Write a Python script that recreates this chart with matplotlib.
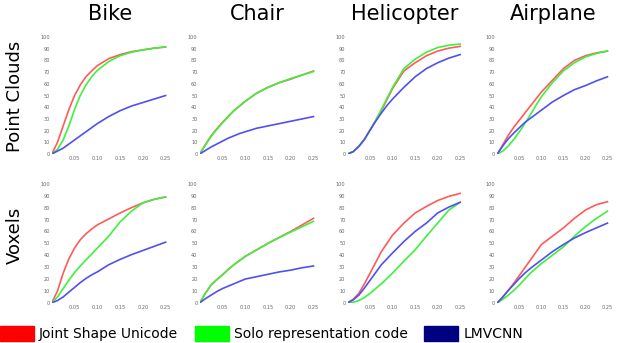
import matplotlib
matplotlib.use("Agg")
import matplotlib.pyplot as plt
import matplotlib.patches as mpatches

# sample positions on the distance axis (denser near the start)
x = [0, 0.0125, 0.025, 0.0375, 0.05, 0.0625, 0.075, 0.0875, 0.1,
     0.125, 0.15, 0.175, 0.2, 0.225, 0.25]

categories = ["Bike", "Chair", "Helicopter", "Airplane"]
rows = ["Point Clouds", "Voxels"]
methods = ["Joint Shape Unicode", "Solo representation code", "LMVCNN"]

# point clouds row
pc_bike_joint = [0, 10, 24, 38, 50, 59, 66, 71, 75.5, 81.5, 85, 87.5, 89, 90.5, 91.5]
pc_bike_solo = [0, 4, 12, 24, 38, 50, 59, 66, 71.5, 79, 84, 87, 89, 90.5, 91.5]
pc_bike_lmvcnn = [0, 2.5, 5, 8.5, 12, 15.5, 19, 22.5, 26, 32, 37, 41, 44, 47, 50]

pc_chair_joint = [0, 8, 15.5, 21.5, 27, 32, 37, 41, 45, 52, 57, 61, 64, 67.5, 71]
pc_chair_solo = [0, 7.5, 15, 21, 26.5, 32, 37, 41, 45, 52, 57, 61, 64.5, 67.5, 70.5]
pc_chair_lmvcnn = [0, 3, 6, 8.5, 11, 13.5, 15.5, 17.5, 19, 22, 24, 26, 28, 30, 32]

pc_heli_joint = [0, 2, 6.5, 12.5, 20.5, 28.5, 37, 46.5, 56, 71, 78, 84, 88, 90.5, 92]
pc_heli_solo = [0, 2, 6.5, 12.5, 20.5, 29, 38, 47.5, 57, 73, 81, 87, 91, 93, 94]
pc_heli_lmvcnn = [0, 2, 6.5, 12.5, 20.5, 28, 35, 41.5, 47, 57, 66, 73, 78, 82, 85]

pc_plane_joint = [0, 8, 16, 23, 29, 35, 41, 47, 53, 63, 73, 80, 84, 86.5, 88]
pc_plane_solo = [0, 2.5, 7, 12.5, 19, 26, 33.5, 41.5, 49, 61, 71, 78, 83, 86, 88]
pc_plane_lmvcnn = [0, 7, 13, 18, 22.5, 27, 30.5, 34, 37.5, 44.5, 50, 55, 58.5, 62.5, 66]

# voxels row
vx_bike_joint = [0, 10, 25, 37, 46, 53, 58, 62, 65.5, 70.5, 75.5, 80, 84, 87, 89]
vx_bike_solo = [0, 5, 12, 19, 25.5, 31, 36, 41, 46, 56, 68, 77, 84, 87, 89]
vx_bike_lmvcnn = [0, 2, 5, 9, 13, 17, 20.5, 23.5, 26, 32, 36.5, 40.5, 44, 47.5, 51]

vx_chair_joint = [0, 8, 15, 19.5, 23.5, 28, 32, 35.5, 39, 44.5, 50, 55, 60, 65.5, 71]
vx_chair_solo = [0, 8, 15, 19.5, 23.5, 28, 32, 35.5, 39, 44.5, 50, 55, 59.5, 64, 68.5]
vx_chair_lmvcnn = [0, 3.5, 6.5, 9.5, 12, 14, 16, 18, 20, 22, 24, 26, 27.5, 29.5, 31]

vx_heli_joint = [0, 3, 8, 16, 25, 34, 43, 50, 57, 67, 75.5, 81, 86, 89.5, 92]
vx_heli_solo = [0, 0.5, 2, 4.5, 8, 12, 16, 20.5, 25, 35, 44.5, 56, 67, 78, 84.5]
vx_heli_lmvcnn = [0, 2.5, 6.5, 12.5, 19, 25.5, 32, 37, 42, 51.5, 60, 67, 75.5, 80.5, 84.5]

vx_plane_joint = [0, 5, 10.5, 16.5, 23, 29.5, 36, 42.5, 49, 56, 63, 71, 78, 82.5, 85]
vx_plane_solo = [0, 3, 6.5, 10.5, 15, 20, 25, 29, 33, 40, 47, 56, 64, 71, 77]
vx_plane_lmvcnn = [0, 5, 10.5, 15.5, 20.5, 25, 29, 32.5, 36, 43, 49, 54.5, 59, 63, 67]

panels = [
    [(pc_bike_joint, pc_bike_solo, pc_bike_lmvcnn),
     (pc_chair_joint, pc_chair_solo, pc_chair_lmvcnn),
     (pc_heli_joint, pc_heli_solo, pc_heli_lmvcnn),
     (pc_plane_joint, pc_plane_solo, pc_plane_lmvcnn)],
    [(vx_bike_joint, vx_bike_solo, vx_bike_lmvcnn),
     (vx_chair_joint, vx_chair_solo, vx_chair_lmvcnn),
     (vx_heli_joint, vx_heli_solo, vx_heli_lmvcnn),
     (vx_plane_joint, vx_plane_solo, vx_plane_lmvcnn)],
]

line_colors = ["#ff5a5a", "#3ff03f", "#5050f0"]
patch_colors = ["#ff0000", "#00ff00", "#000080"]

fig = plt.figure(figsize=(6.24, 3.43), dpi=100)

lefts = [0.083, 0.320, 0.557, 0.797]
widths = [0.186, 0.186, 0.184, 0.180]
bottoms = [0.551, 0.117]
heights = [0.341, 0.347]

for r in range(2):
    for c in range(4):
        ax = fig.add_axes([lefts[c], bottoms[r], widths[c], heights[r]])
        for k in range(3):
            ax.plot(x, panels[r][c][k], color=line_colors[k], lw=1.2)
        ax.set_xlim(0, 0.255)
        ax.set_ylim(0, 100)
        ax.set_xticks([0.05, 0.10, 0.15, 0.20, 0.25])
        ax.set_xticklabels(["0.05", "0.10", "0.15", "0.20", "0.25"])
        ax.set_yticks(range(0, 101, 10))
        ax.tick_params(length=0, labelsize=3.6, labelcolor="#666666", pad=1.5)
        for s in ax.spines.values():
            s.set_visible(False)
        if r == 0:
            ax.set_title(categories[c], fontsize=15, pad=12)

# row labels
fig.text(0.024, 0.72, rows[0], rotation=90, fontsize=13, ha="center", va="center")
fig.text(0.024, 0.315, rows[1], rotation=90, fontsize=13, ha="center", va="center")

handles = [mpatches.Patch(color=patch_colors[i], label=methods[i]) for i in range(3)]
fig.legend(handles=handles, loc="lower left", bbox_to_anchor=(0, 0.006), ncol=3,
           frameon=False, fontsize=10, handlelength=2.45, handleheight=1.3,
           handletextpad=0.36, columnspacing=1.2, borderpad=0, borderaxespad=0)

fig.savefig("out.png", dpi=100)
